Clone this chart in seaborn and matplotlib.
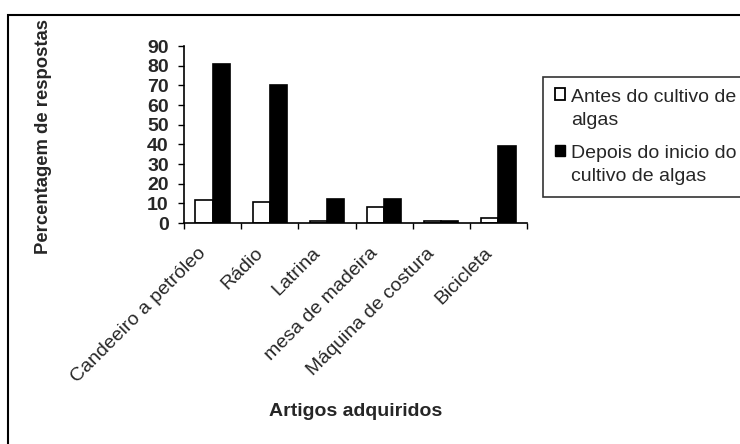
import matplotlib
matplotlib.use("Agg")
import matplotlib.pyplot as plt
import matplotlib.transforms as mtransforms
import seaborn as sns
import pandas as pd
import numpy as np
from matplotlib.patches import Rectangle, Patch
from matplotlib.legend_handler import HandlerPatch

categories = ["Candeeiro a petróleo", "Rádio", "Latrina", "mesa de madeira",
              "Máquina de costura", "Bicicleta"]
antes = [11.5, 10.5, 1, 8, 1, 2.5]
depois = [81, 70, 12, 12, 1, 39]
series_names = ["Antes do cultivo de algas", "Depois do inicio do cultivo de algas"]
legend_labels = ["Antes do cultivo de\nalgas", "Depois do inicio do\ncultivo de algas"]
yticks = [0, 10, 20, 30, 40, 50, 60, 70, 80, 90]

df = pd.DataFrame({
    "Artigo": categories * 2,
    "Valor": antes + depois,
    "Periodo": [series_names[0]] * len(categories) + [series_names[1]] * len(categories),
})

sns.set_theme(style="white")
plt.rcParams["font.family"] = ["Liberation Sans", "DejaVu Sans"]

LEG_LINESPACING = 1.45


class TopLineHandler(HandlerPatch):
    """Square legend key aligned with the first line of a two-line label."""

    def create_artists(self, legend, orig_handle, xdescent, ydescent,
                       width, height, fontsize, trans):
        shift = 0.5 * LEG_LINESPACING * fontsize
        p = Rectangle((-xdescent, -ydescent + shift), width, height,
                      facecolor=orig_handle.get_facecolor(),
                      edgecolor=orig_handle.get_edgecolor(),
                      linewidth=orig_handle.get_linewidth())
        p.set_transform(trans)
        return [p]


fig = plt.figure(figsize=(7.4, 4.44), dpi=100)
ax = fig.add_axes([184 / 740, 1 - 223 / 444, 343 / 740, 177 / 444])

sns.barplot(data=df, x="Artigo", y="Valor", hue="Periodo",
            palette=["white", "black"], edgecolor="black", linewidth=1.2,
            width=0.6, gap=0, saturation=1, legend=False, ax=ax)

ax.set_ylim(0, 90)
ax.set_xlim(-0.5, len(categories) - 0.5)
ax.set_yticks(yticks)
ax.set_yticklabels([str(v) for v in yticks], fontsize=14, fontweight="bold")
ax.tick_params(axis="y", length=4, width=1, color="black", pad=7, left=True)

# category labels at centres, tick marks at boundaries
ax.set_xticks(range(len(categories)))
ax.set_xticklabels(categories, rotation=45, ha="right", va="center",
                   rotation_mode="anchor", fontsize=14)
ax.tick_params(axis="x", which="major", length=0, pad=20)
shift = mtransforms.ScaledTranslation(-9 / 100, 0, fig.dpi_scale_trans)
for lbl in ax.get_xticklabels():
    lbl.set_transform(lbl.get_transform() + shift)
ax.set_xticks(np.arange(-0.5, len(categories), 1.0), minor=True)
ax.tick_params(axis="x", which="minor", length=4, width=1, color="black",
               direction="out", bottom=True)

for side in ["top", "right"]:
    ax.spines[side].set_visible(False)
for side in ["left", "bottom"]:
    ax.spines[side].set_color("black")
    ax.spines[side].set_linewidth(1.2)

ax.set_xlabel("Artigos adquiridos", fontsize=14, fontweight="bold")
ax.set_ylabel("Percentagem de respostas", fontsize=13.3, fontweight="bold")
ax.xaxis.set_label_coords(0.5, -1.017)
ax.xaxis.label.set_va("top")
ax.yaxis.set_label_coords(-0.385, 0.49)

handles = [Patch(facecolor="white", edgecolor="black", linewidth=1.3),
           Patch(facecolor="black", edgecolor="black", linewidth=1.0)]
leg = fig.legend(handles, legend_labels, loc="upper left",
                 bbox_to_anchor=(543 / 740, 1 - 77 / 444),
                 fontsize=14, frameon=True, fancybox=False,
                 handlelength=0.55, handleheight=0.55, handletextpad=0.3,
                 borderpad=0.6, labelspacing=0.85, borderaxespad=0,
                 handler_map={Patch: TopLineHandler()})
for t in leg.get_texts():
    t.set_linespacing(LEG_LINESPACING)
leg.get_frame().set_edgecolor("black")
leg.get_frame().set_linewidth(1.2)

# outer chart frame
fig.patches.append(Rectangle((8 / 740, -0.2), 1.2, 1.2 - 15 / 444,
                             transform=fig.transFigure, fill=False,
                             edgecolor="black", linewidth=1.5))

fig.savefig("out.png", dpi=100)
